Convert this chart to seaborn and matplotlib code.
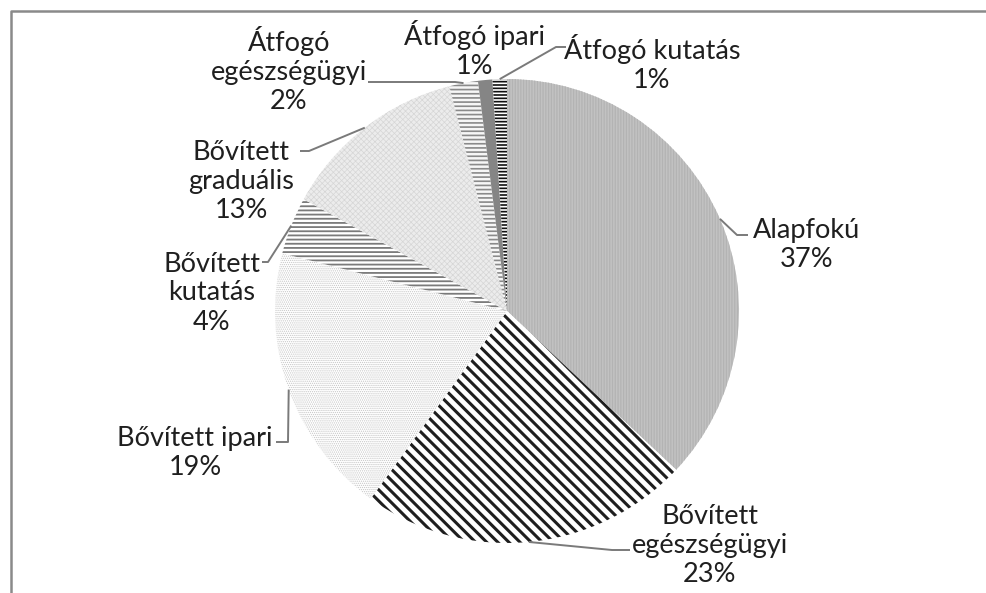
import matplotlib
matplotlib.use("Agg")
import matplotlib.pyplot as plt
import seaborn as sns
import numpy as np

# ---- data ----
categories = ["Alapfokú", "Bővített egészségügyi", "Bővített ipari", "Bővített kutatás",
              "Bővített graduális", "Átfogó egészségügyi", "Átfogó ipari", "Átfogó kutatás"]
label_names = ["Alapfokú", "Bővített\negészségügyi", "Bővített ipari", "Bővített\nkutatás",
               "Bővített\ngraduális", "Átfogó\negészségügyi", "Átfogó ipari", "Átfogó kutatás"]
values = [37, 23, 19, 4, 13, 2, 1, 1]

sns.set_theme(style="white")
plt.rcParams["font.family"] = ["Lato", "DejaVu Sans"]

W, H = 986, 593
fig = plt.figure(figsize=(W / 100, H / 100), dpi=100)
ax = fig.add_axes([0, 0, 1, 1])
cx, cy, R = 507, H - 311, 232

wedges, _ = ax.pie(values, startangle=90, counterclock=False, center=(cx, cy),
                   radius=R, wedgeprops=dict(linewidth=0))
ax.set_xlim(0, W)
ax.set_ylim(0, H)
ax.set_aspect("auto")
ax.axis("off")

# styles: (face, hatch colour, hatch, hatch linewidth)
styles = [
    ("#c2c2c2", "#b3b3b3", "||||||", 0.9),
    ("#ffffff", "#1e1e1e", "\\\\\\", 2.2),
    ("#ffffff", "#c6c6c6", "........", 0.6),
    ("#ffffff", "#7a7a7a", "----", 1.3),
    ("#ececec", "#d6d6d6", "xxxxxx", 0.5),
    ("#f6f6f6", "#8a8a8a", "----", 1.2),
    ("#858585", "#858585", "", 1.0),
    ("#ffffff", "#111111", "-----", 1.2),
]
for w, (fc, hc, hatch, hlw) in zip(wedges, styles):
    w.set_facecolor(fc)
    w.set_edgecolor(hc)
    w.set_linewidth(0)
    if hatch:
        w.set_hatch(hatch)
        try:
            w.set_hatch_linewidth(hlw)
        except Exception:
            pass

# label layout (image px, y from top)
text_pos = [(807, 245), (710, 545), (195, 453), (212, 293),
            (241, 182), (289, 70), (475, 50), (652, 63)]
# leader anchor points near text, elbow points (image px)
leaders = [
    [(748, 235), (737, 235)],
    [(630, 550), (612, 550)],
    [(276, 442), (288, 442)],
    [(262, 262), (268, 262)],
    [(300, 151), (309, 151)],
    [(368, 82), (455, 82)],
    None,
    [(566, 47), (556, 47)],
]

for w, name, v, (tx, ty), ld in zip(wedges, label_names, values, text_pos, leaders):
    ax.text(tx, H - ty, f"{name}\n{v}%", ha="center", va="center", multialignment="center",
            fontsize=19.5, color="#1f1f1f", linespacing=1.2)
    if ld is None:
        continue
    mid = np.deg2rad((w.theta1 + w.theta2) / 2)
    ex, ey = cx + R * np.cos(mid), cy + R * np.sin(mid)
    xs = [p[0] for p in ld] + [ex]
    ys = [H - p[1] for p in ld] + [ey]
    ax.plot(xs, ys, color="#7a7a7a", lw=1.4, solid_capstyle="butt")

# chart frame (cropped on the right and bottom)
ax.plot([10.5, 10.5, W], [0, H - 10.5, H - 10.5], color="#8a8a8a", lw=1.8)

fig.savefig("out.png", dpi=100)
